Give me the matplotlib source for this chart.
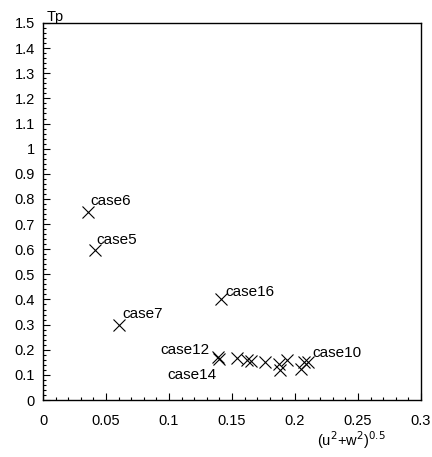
import matplotlib
matplotlib.use("Agg")
import matplotlib.pyplot as plt
from matplotlib.ticker import MultipleLocator

plt.rcParams['font.family'] = ['Liberation Sans', 'DejaVu Sans']

# speed magnitude vs Tp, one point per case
vel = [0.036, 0.041, 0.060, 0.141, 0.139, 0.140, 0.154, 0.162, 0.165,
       0.1765, 0.1875, 0.188, 0.1935, 0.2045, 0.207, 0.2105]
tp = [0.75, 0.595, 0.30, 0.40, 0.170, 0.165, 0.166, 0.158, 0.156,
      0.150, 0.142, 0.121, 0.159, 0.125, 0.152, 0.150]

# labelled cases: (name, index of point, offset in points, alignment)
case_names = ['case6', 'case5', 'case7', 'case16', 'case12', 'case14', 'case10']
case_idx = [0, 1, 2, 3, 4, 5, 15]
case_off = [(1.5, 4.5), (1.5, 4.5), (2.5, 4.5), (3.5, 2.5), (-6, 2.5), (-2, -14.5), (3, 4)]
case_ha = ['left', 'left', 'left', 'left', 'right', 'right', 'left']

fig = plt.figure(figsize=(4.32, 4.57), dpi=100)
ax = fig.add_axes([43/432, 1 - 400/457, 378/432, 377/457])

ax.plot(vel, tp, linestyle='none', marker='x', markersize=8,
        markeredgewidth=0.8, color='black')

for name, i, off, ha in zip(case_names, case_idx, case_off, case_ha):
    ax.annotate(name, (vel[i], tp[i]), xytext=off, textcoords='offset points',
                ha=ha, va='baseline', fontsize=11)

ax.set_xlim(0, 0.3)
ax.set_ylim(0, 1.5)
ax.xaxis.set_minor_locator(MultipleLocator(0.01))
ax.yaxis.set_minor_locator(MultipleLocator(0.02))
ax.set_xticks([0, 0.05, 0.1, 0.15, 0.2, 0.25, 0.3])
ax.set_xticklabels(['0', '0.05', '0.1', '0.15', '0.2', '0.25', '0.3'])
ax.set_yticks([k / 10 for k in range(16)])
ax.set_yticklabels(['0', '0.1', '0.2', '0.3', '0.4', '0.5', '0.6', '0.7', '0.8',
                    '0.9', '1', '1.1', '1.2', '1.3', '1.4', '1.5'])
ax.tick_params(which='both', direction='in', top=False, right=False, labelsize=10.5)
ax.tick_params(axis='x', which='major', length=5, width=0.8, pad=10)
ax.tick_params(axis='y', which='major', length=5, width=0.8, pad=6)
ax.tick_params(which='minor', length=2.5, width=0.8)
for s in ax.spines.values():
    s.set_linewidth(1.0)

ax.text(0.01, 1.005, 'Tp', transform=ax.transAxes, ha='left', va='baseline', fontsize=10.5)
ax.set_xlabel(r'(u$^2$+w$^2$)$^{0.5}$', fontsize=10.5)
ax.xaxis.set_label_coords(0.817, -0.077)

fig.savefig('out.png', dpi=100)
